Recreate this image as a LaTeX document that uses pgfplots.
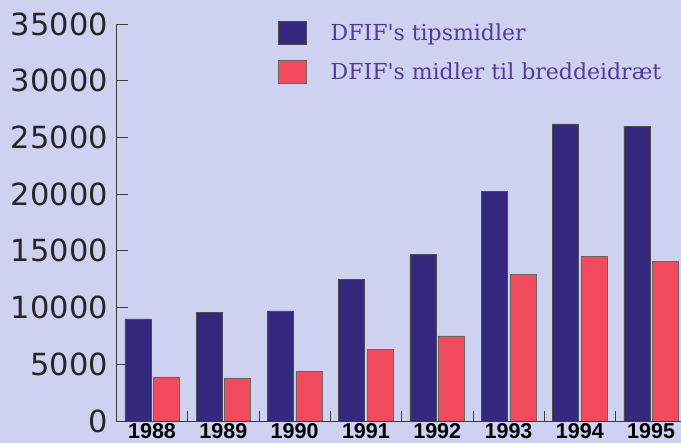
\documentclass[border=0pt]{standalone}
\usepackage{fontspec}
\setmainfont{Liberation Sans}
\newfontfamily\legfont{DejaVu Serif}
\newfontfamily\numfont{DejaVu Sans}
\usepackage{pgfplots}
\pgfplotsset{compat=1.18}
\definecolor{bg}{HTML}{CFD1F0}
\definecolor{tips}{HTML}{35297F}
\definecolor{bredde}{HTML}{F14A5D}
\definecolor{axisc}{HTML}{3A3A3A}
\definecolor{legtext}{HTML}{523C9A}
\pgfplotsset{sqleg/.style={legend image code/.code={\draw[##1] (0pt,-11.5pt) rectangle (28pt,11.5pt);}}}

\begin{document}
\begin{tikzpicture}
\path[use as bounding box, fill=bg] (0,0) rectangle (681pt,443pt);
\clip (0,0) rectangle (681pt,443pt);
\begin{axis}[
  at={(116.4pt,22pt)}, anchor=south west, scale only axis,
  width=570.4pt, height=397pt,
  xmin=-0.5, xmax=7.5, ymin=0, ymax=35000,
  axis lines*=left, axis line style={draw=axisc, line width=0.8pt},
  ybar=2.5pt, bar width=26pt,
  xtick={0,...,7},
  xticklabels={1988,1989,1990,1991,1992,1993,1994,1995},
  minor xtick={0.5,1.5,...,6.5},
  ytick={0,5000,...,35000},
  scaled ticks=false,
  tick align=inside, major tick length=12pt, minor tick length=10pt,
  tick style={draw=axisc, line width=0.8pt},
  major x tick style={draw=none},
  /pgf/number format/1000 sep={},
  /pgf/number format/assume math mode=true,
  yticklabel style={font=\numfont\fontsize{30.5}{30.5}\selectfont, text=black!85, xshift=-5pt},
  xticklabel style={font=\fontsize{21.5}{21.5}\selectfont\bfseries, text=black, yshift=1.5pt},
  legend style={at={(0.278,1.0126)}, anchor=north west, draw=none, fill=none,
    font=\legfont\fontsize{22}{22}\selectfont, text=legtext,
    nodes={inner sep=0pt}, row sep=15pt, column sep=24pt, cells={anchor=west}},
]
\addplot[fill=tips, draw=black!70, line width=0.5pt, sqleg] coordinates {
(0,9000) (1,9600) (2,9700) (3,12500) (4,14700) (5,20250) (6,26200) (7,26000)};
\addplot[fill=bredde, draw=black!60, line width=0.5pt, sqleg] coordinates {
(0,3900) (1,3800) (2,4400) (3,6300) (4,7500) (5,12900) (6,14500) (7,14100)};
\legend{DFIF's tipsmidler, DFIF's midler til breddeidræt}
\end{axis}
\end{tikzpicture}
\end{document}
